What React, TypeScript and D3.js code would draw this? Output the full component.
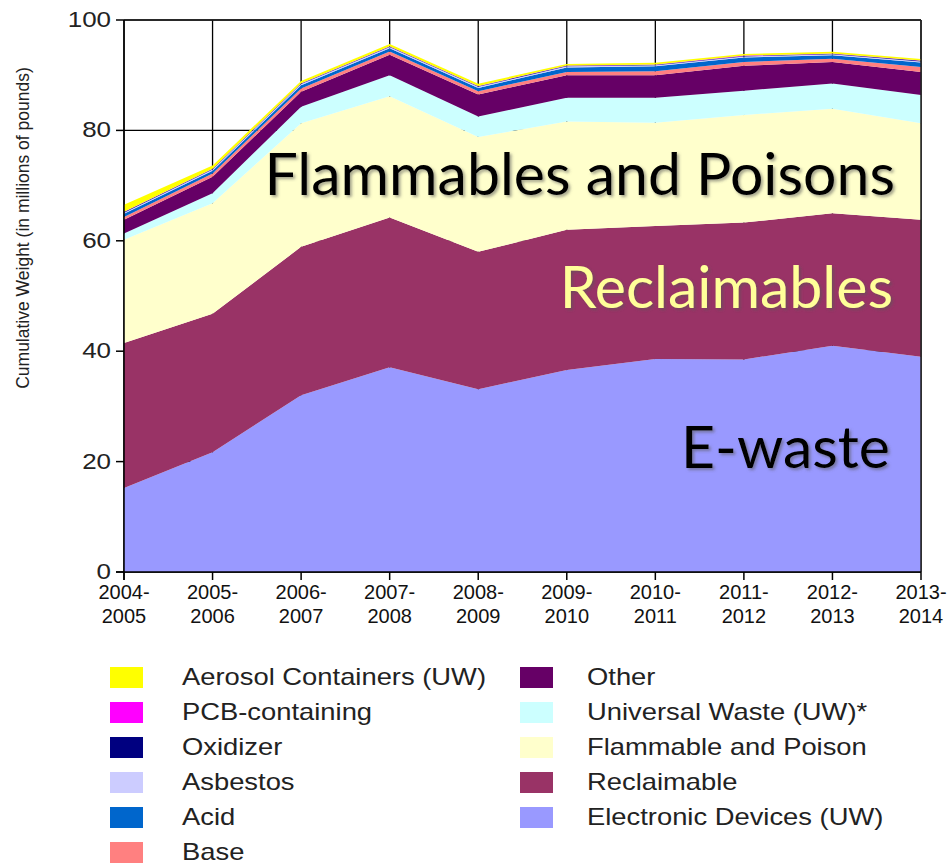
import React from 'react'
import * as d3 from 'd3'

const years = ['2004-2005', '2005-2006', '2006-2007', '2007-2008', '2008-2009', '2009-2010', '2010-2011', '2011-2012', '2012-2013', '2013-2014']

// stack order bottom -> top
const seriesNames = ['Electronic Devices (UW)', 'Reclaimable', 'Flammable and Poison', 'Universal Waste (UW)*', 'Other', 'Base', 'Acid', 'Asbestos', 'Oxidizer', 'PCB-containing', 'Aerosol Containers (UW)']
const seriesColors = ['#9999ff', '#993366', '#ffffcc', '#ccffff', '#660066', '#ff8080', '#0066cc', '#ccccff', '#000080', '#ff00ff', '#ffff00']

const electronic = [15.2, 21.7, 32.0, 37.1, 33.1, 36.6, 38.6, 38.5, 41.0, 39.0]
const reclaimable = [26.3, 25.1, 26.9, 27.1, 24.9, 25.4, 24.1, 24.8, 24.0, 24.8]
const flammable = [18.7, 20.0, 22.4, 22.0, 20.8, 19.6, 18.7, 19.5, 18.9, 17.5]
const universal = [1.1, 1.8, 3.0, 3.8, 3.7, 4.3, 4.5, 4.4, 4.6, 5.1]
const other = [2.5, 3.0, 2.7, 3.7, 4.0, 4.1, 4.1, 4.5, 3.9, 4.2]
const base = [0.5, 0.6, 0.6, 0.6, 0.6, 0.6, 0.7, 0.7, 0.6, 0.9]
const acid = [0.6, 0.5, 0.6, 0.6, 0.6, 0.8, 0.9, 0.8, 0.6, 0.8]
const asbestos = [0.2, 0.2, 0.2, 0.2, 0.2, 0.2, 0.2, 0.2, 0.2, 0.2]
const oxidizer = [0.1, 0.1, 0.1, 0.1, 0.1, 0.1, 0.1, 0.1, 0.1, 0.1]
const pcb = [0.05, 0.05, 0.05, 0.05, 0.05, 0.05, 0.05, 0.05, 0.05, 0.05]
const aerosol = [1.3, 0.6, 0.4, 0.4, 0.4, 0.3, 0.3, 0.3, 0.3, 0.3]

const seriesValues = [electronic, reclaimable, flammable, universal, other, base, acid, asbestos, oxidizer, pcb, aerosol]

const yTicks = [0, 20, 40, 60, 80, 100]

// legend columns, top -> bottom
const legendLeft = ['Aerosol Containers (UW)', 'PCB-containing', 'Oxidizer', 'Asbestos', 'Acid', 'Base']
const legendRight = ['Other', 'Universal Waste (UW)*', 'Flammable and Poison', 'Reclaimable', 'Electronic Devices (UW)']

const W = 950
const H = 864
const left = 124, right = 921, top = 20, bottom = 572

export default function App() {
  const x = d3.scalePoint<string>().domain(years).range([left, right])
  const y = d3.scaleLinear().domain([0, 100]).range([bottom, top])

  const table = years.map((yr, i) => {
    const row: any = { year: yr }
    seriesNames.forEach((n, j) => { row[n] = seriesValues[j][i] })
    return row
  })
  const stacked = d3.stack<any>().keys(seriesNames)(table)
  const area = d3.area<any>()
    .x(d => x(d.data.year) as number)
    .y0(d => y(d[0]))
    .y1(d => y(d[1]))

  const colorOf = (name: string) => seriesColors[seriesNames.indexOf(name)]
  const axisFont = '"Liberation Sans", Arial, sans-serif'

  // stretched text, the original chart is a bit wider than tall
  const wide = (px: number, py: number, sx: number) => `translate(${px},${py}) scale(${sx},1)`

  return (
    <svg width={W} height={H} style={{ display: 'block', position: 'absolute', left: 0, top: 0 }} viewBox={`0 0 ${W} ${H}`}>
      <defs>
        <filter id="shadow" x="-5%" y="-20%" width="115%" height="150%">
          <feDropShadow dx="2" dy="2" stdDeviation="1.5" floodColor="#555" floodOpacity="0.55" />
        </filter>
      </defs>
      <rect x={0} y={0} width={W} height={H} fill="#fff" />
      {/* grid */}
      {yTicks.map(t => (
        <line key={'gy' + t} x1={left} x2={right} y1={y(t)} y2={y(t)} stroke="#000" strokeWidth={1.3} />
      ))}
      {years.map(yr => (
        <line key={'gx' + yr} x1={x(yr)} x2={x(yr)} y1={top} y2={bottom} stroke="#000" strokeWidth={1.3} />
      ))}
      {/* areas */}
      {stacked.map(s => (
        <path key={s.key} d={area(s) as string} fill={colorOf(s.key)} />
      ))}
      {/* frame */}
      <line x1={left} x2={right} y1={top} y2={top} stroke="#222" strokeWidth={1.5} />
      <line x1={right} x2={right} y1={top} y2={bottom} stroke="#222" strokeWidth={1.5} />
      <line x1={left} x2={left} y1={top} y2={bottom + 8} stroke="#000" strokeWidth={1.5} />
      <line x1={left - 8} x2={right} y1={bottom} y2={bottom} stroke="#000" strokeWidth={1.5} />
      {/* y axis */}
      {yTicks.map(t => (
        <g key={'yt' + t}>
          <line x1={left - 8} x2={left} y1={y(t)} y2={y(t)} stroke="#000" strokeWidth={1.5} />
          <text transform={wide(left - 13, y(t) + 7, 1.18)} textAnchor="end" fontFamily={axisFont} fontSize={22} fill="#222">{t}</text>
        </g>
      ))}
      <text transform={`translate(29,228) rotate(-90)`} textAnchor="middle" fontFamily={axisFont} fontSize={17.5} fill="#222">Cumulative Weight (in millions of pounds)</text>
      {/* x axis */}
      {years.map(yr => {
        const [a, b] = yr.split('-')
        return (
          <g key={'xt' + yr}>
            <line x1={x(yr)} x2={x(yr)} y1={bottom} y2={bottom + 8} stroke="#000" strokeWidth={1.5} />
            <text x={x(yr)} y={bottom + 27} textAnchor="middle" fontFamily={axisFont} fontSize={20} fill="#111">{a + '-'}</text>
            <text x={x(yr)} y={bottom + 51} textAnchor="middle" fontFamily={axisFont} fontSize={20} fill="#111">{b}</text>
          </g>
        )
      })}
      {/* annotations */}
      <g fontFamily='Lato, "Open Sans", sans-serif' fontSize={59} textAnchor="end" filter="url(#shadow)">
        <text x={895} y={195} fill="#000">Flammables and Poisons</text>
        <text x={893} y={308} fill="#ffff99">Reclaimables</text>
        <text x={890} y={468} fill="#000">E-waste</text>
      </g>
      {/* legend */}
      {legendLeft.map((n, i) => (
        <g key={'ll' + n}>
          <rect x={110} y={667 + i * 35} width={33} height={21} fill={colorOf(n)} />
          <text transform={wide(182, 685 + i * 35, 1.19)} fontFamily={axisFont} fontSize={23} fill="#222">{n}</text>
        </g>
      ))}
      {legendRight.map((n, i) => (
        <g key={'lr' + n}>
          <rect x={520} y={667 + i * 35} width={33} height={21} fill={colorOf(n)} />
          <text transform={wide(587, 685 + i * 35, 1.19)} fontFamily={axisFont} fontSize={23} fill="#222">{n}</text>
        </g>
      ))}
    </svg>
  )
}
